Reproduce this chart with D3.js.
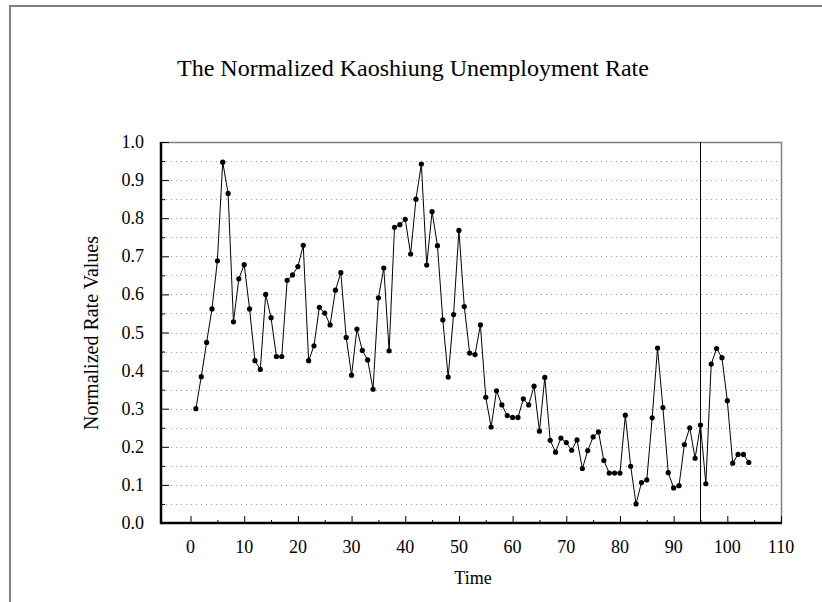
<!DOCTYPE html>
<html><head><meta charset="utf-8">
<script src="https://cdn.jsdelivr.net/npm/d3@7"></script>
<style>body{margin:0;background:#fff}svg{display:block}</style>
</head><body>
<script>
const times = d3.range(1, 105);
const values = [
0.300,0.384,0.474,0.562,0.688,0.947,0.865,0.528,0.641,0.678,
0.562,0.426,0.403,0.600,0.539,0.437,0.437,0.637,0.651,0.673,
0.729,0.426,0.465,0.566,0.551,0.520,0.611,0.657,0.487,0.388,
0.509,0.453,0.428,0.351,0.591,0.669,0.452,0.776,0.783,0.797,
0.706,0.850,0.942,0.677,0.817,0.728,0.533,0.383,0.547,0.768,
0.568,0.446,0.442,0.520,0.330,0.252,0.347,0.310,0.282,0.277,
0.277,0.326,0.310,0.359,0.241,0.382,0.217,0.186,0.223,0.211,
0.191,0.218,0.143,0.190,0.226,0.239,0.164,0.131,0.131,0.131,
0.283,0.149,0.050,0.106,0.113,0.276,0.459,0.303,0.132,0.092,
0.098,0.206,0.250,0.170,0.257,0.103,0.417,0.458,0.434,0.321,
0.157,0.180,0.180,0.159];
const xTicks = d3.range(0, 111, 10);
const yTicks = d3.range(0, 1.0001, 0.1);
const markerTime = 95;
const title = "The Normalized Kaoshiung Unemployment Rate";
const xLabel = "Time";
const yLabel = "Normalized Rate Values";

const W = 822, H = 602;
const L = 161, R = 781, T = 142, B = 523;
const svg = d3.select("body").append("svg").attr("width", W).attr("height", H);
const font = "'Liberation Serif','Times New Roman',serif";

// outer frame
svg.append("path").attr("d", `M10,${H} V6 H${W}`).attr("fill","none").attr("stroke","#808080").attr("stroke-width",2);

const x = d3.scaleLinear().domain([-5.5, 110]).range([L, R]);
const y = d3.scaleLinear().domain([0, 1]).range([B, T]);

// grid
const grid = d3.range(0.05, 1.0, 0.05);
svg.append("g").selectAll("line").data(grid).join("line")
  .attr("x1", L).attr("x2", R).attr("y1", d => Math.round(y(d))+0.5).attr("y2", d => Math.round(y(d))+0.5)
  .attr("stroke","#999").attr("stroke-width",1).attr("stroke-dasharray","1,4");

// top & right border
svg.append("path").attr("d", `M${L},${T+0.5} H${R+0.5} V${B}`).attr("fill","none").attr("stroke","#808080").attr("stroke-width",1.5);

// vertical marker
svg.append("line").attr("x1", Math.round(x(markerTime))+0.5).attr("x2", Math.round(x(markerTime))+0.5)
  .attr("y1", T).attr("y2", B).attr("stroke","#000").attr("stroke-width",1);

// ticks
const xAxis = d3.axisTop(x).tickValues(xTicks).tickSize(7).tickFormat("");
svg.append("g").attr("transform",`translate(0,${B})`).call(xAxis).call(g=>g.select(".domain").remove())
  .selectAll("line").attr("stroke","#000").attr("stroke-width",1);
const xMinor = d3.axisTop(x).tickValues(d3.range(5, 110, 10)).tickSize(3).tickFormat("");
svg.append("g").attr("transform",`translate(0,${B})`).call(xMinor).call(g=>g.select(".domain").remove())
  .selectAll("line").attr("stroke","#000");
const yAxis = d3.axisRight(y).tickValues(yTicks).tickSize(8).tickFormat("");
svg.append("g").attr("transform",`translate(${L},0)`).call(yAxis).call(g=>g.select(".domain").remove())
  .selectAll("line").attr("stroke","#000");
const yMinor = d3.axisRight(y).tickValues(d3.range(0.05, 1, 0.1)).tickSize(4).tickFormat("");
svg.append("g").attr("transform",`translate(${L},0)`).call(yMinor).call(g=>g.select(".domain").remove())
  .selectAll("line").attr("stroke","#000");

// labels
svg.append("g").selectAll("text").data(xTicks).join("text")
  .attr("x", d => x(d)).attr("y", 553).attr("text-anchor","middle")
  .attr("font-family", font).attr("font-size", 18).text(d => d);
svg.append("g").selectAll("text").data(yTicks).join("text")
  .attr("x", 144).attr("y", d => y(d)+6).attr("text-anchor","end")
  .attr("font-family", font).attr("font-size", 18).text(d => d.toFixed(1));

// main axes
svg.append("path").attr("d", `M${L},${T} V${B} H${R+1}`).attr("fill","none").attr("stroke","#000").attr("stroke-width",2.5);

// line
const line = d3.line().x((d,i)=>x(times[i])).y(d=>y(d));
svg.append("path").datum(values).attr("d", line).attr("fill","none").attr("stroke","#000").attr("stroke-width",1);
svg.append("g").selectAll("circle").data(values).join("circle")
  .attr("cx",(d,i)=>x(times[i])).attr("cy",d=>y(d)).attr("r",2.6).attr("fill","#000");

svg.append("text").attr("x", 413).attr("y", 76).attr("text-anchor","middle")
  .attr("font-family", font).attr("font-size", 24).text(title);
svg.append("text").attr("x", 473).attr("y", 584).attr("text-anchor","middle")
  .attr("font-family", font).attr("font-size", 18).text(xLabel);
svg.append("text").attr("transform", `translate(98,333) rotate(-90)`).attr("text-anchor","middle")
  .attr("font-family", font).attr("font-size", 20).text(yLabel);
</script>
</body></html>
